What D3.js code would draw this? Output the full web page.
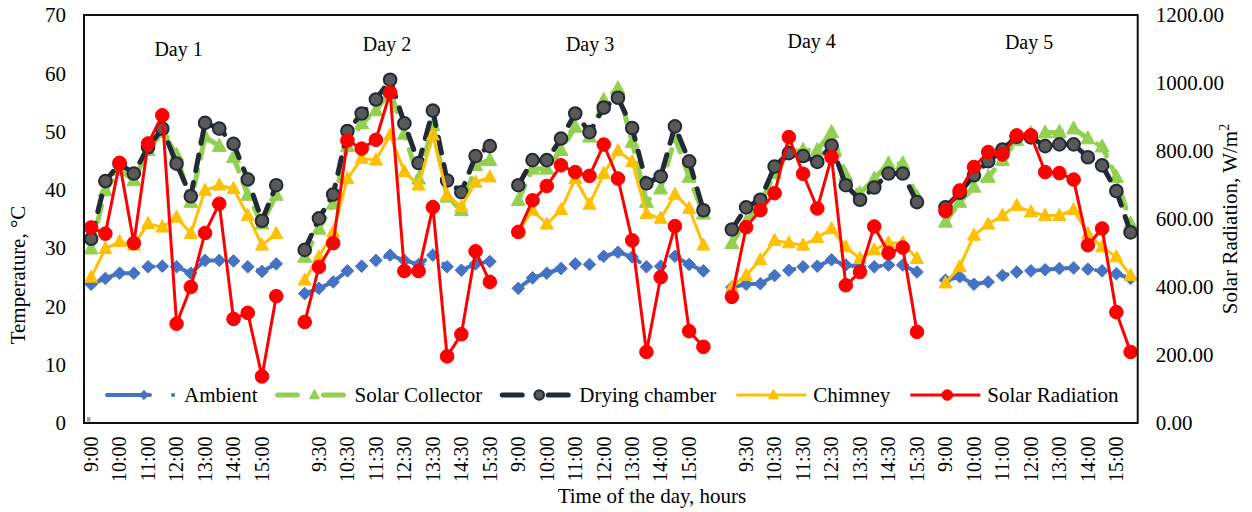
<!DOCTYPE html>
<html>
<head>
<meta charset="utf-8">
<script src="https://cdn.jsdelivr.net/npm/d3@7"></script>
<style>
  body { margin: 0; background: #fff; }
  svg { display: block; font-family: "Liberation Serif", "Times New Roman", serif; }
</style>
</head>
<body>
<div id="chart"></div>
<script>
// time slots measured each day
const times = ["9:00", "9:30", "10:00", "10:30", "11:00", "11:30", "12:00",
               "12:30", "13:00", "13:30", "14:00", "14:30", "15:00", "15:30"];
const dayNames = ["Day 1", "Day 2", "Day 3", "Day 4", "Day 5"];

// temperatures, °C (one row per day)
const ambient = [
    [23.8, 24.8, 25.7, 25.7, 26.8, 26.9, 26.8, 25.7, 27.9, 27.9, 27.8, 26.8, 26.0, 27.3],
    [22.2, 23.1, 24.2, 26.1, 26.9, 27.9, 28.8, 27.9, 27.2, 28.8, 26.8, 26.2, 27.3, 27.7],
    [23.1, 24.9, 25.7, 26.5, 27.3, 27.2, 28.6, 29.3, 28.5, 26.8, 26.9, 28.6, 27.2, 26.1],
    [23.3, 23.8, 23.9, 25.3, 26.2, 26.8, 26.9, 28.0, 27.1, 26.8, 26.8, 27.1, 27.1, 25.9],
    [24.5, 25.1, 23.8, 24.2, 25.3, 25.9, 26.1, 26.3, 26.5, 26.6, 26.4, 26.1, 25.6, 24.8]
];
const collector = [
    [29.9, 39.9, 43.4, 41.6, 46.8, 49.9, 46.0, 37.9, 49.1, 47.5, 45.6, 39.1, 34.2, 39.1],
    [28.5, 33.3, 37.6, 47.5, 51.4, 53.6, 57.0, 49.6, 41.9, 51.1, 38.8, 36.5, 44.2, 45.1],
    [38.2, 43.6, 43.6, 46.8, 50.8, 49.1, 55.4, 57.4, 48.2, 37.9, 40.2, 49.0, 42.2, 35.9],
    [30.8, 34.5, 37.6, 42.8, 46.5, 46.8, 46.8, 49.9, 42.5, 39.4, 41.9, 44.5, 44.5, 38.8],
    [34.5, 37.9, 40.5, 42.2, 45.1, 48.5, 49.7, 49.8, 49.9, 50.5, 48.8, 47.4, 42.2, 34.2]
];
const drying = [
    [31.6, 41.5, 44.5, 42.8, 47.3, 50.5, 44.5, 38.9, 51.5, 50.5, 47.9, 41.8, 34.7, 40.8],
    [29.7, 35.1, 39.2, 50.1, 53.1, 55.5, 58.9, 51.4, 44.6, 53.6, 41.6, 39.6, 45.8, 47.5],
    [40.8, 45.1, 45.1, 48.8, 53.1, 49.9, 54.1, 55.8, 50.6, 41.1, 42.3, 50.9, 44.9, 36.5],
    [33.2, 37.0, 38.3, 44.0, 46.3, 45.8, 44.8, 47.6, 40.8, 38.3, 40.4, 42.8, 42.8, 37.9],
    [37.0, 39.5, 42.5, 44.9, 46.9, 49.1, 49.0, 47.5, 47.8, 47.8, 45.6, 44.2, 39.8, 32.7]
];
const chimney = [
    [25.0, 29.9, 31.1, 30.5, 34.2, 33.6, 35.3, 32.5, 39.9, 40.8, 40.2, 35.6, 30.5, 32.5],
    [24.5, 28.5, 32.8, 41.9, 45.4, 45.1, 49.4, 43.1, 40.8, 49.4, 39.1, 37.1, 41.3, 42.2],
    [32.8, 36.5, 34.1, 36.6, 41.9, 37.5, 42.8, 46.7, 44.8, 35.9, 35.1, 39.2, 36.8, 30.5],
    [23.3, 25.3, 28.0, 31.3, 30.9, 30.5, 31.8, 33.3, 30.2, 28.2, 29.7, 30.9, 30.9, 28.2],
    [24.0, 26.8, 32.2, 34.1, 35.6, 37.3, 36.2, 35.6, 35.6, 36.6, 32.5, 30.2, 28.5, 25.3]
];
// solar radiation, W/m2 (right axis)
const radiation = [
    [575, 557, 765, 529, 822, 905, 292, 400, 559, 645, 306, 324, 137, 373],
    [297, 459, 529, 831, 807, 833, 972, 447, 447, 635, 196, 261, 505, 415],
    [562, 655, 697, 758, 738, 727, 819, 719, 537, 209, 429, 579, 270, 224],
    [371, 576, 626, 676, 841, 733, 631, 782, 405, 444, 578, 500, 516, 268],
    [623, 684, 753, 797, 790, 846, 846, 738, 735, 716, 523, 572, 326, 209]
];

const leftTicks = [0, 10, 20, 30, 40, 50, 60, 70];
const rightTicks = [0, 200, 400, 600, 800, 1000, 1200];

// where the "Day n" captions sit (category position, temperature)
const dayLabelSpot = [[6.14, 62.9], [20.78, 63.9], [35.04, 63.9], [50.6, 64.3], [65.87, 64.1]];

const width = 1252;
const height = 512;
const plot = { left: 84, right: 1137.7, top: 15, bottom: 423 };
const font = 21;

// one empty category between days, like the sheet had
const categories = [];
dayNames.forEach((d, k) => {
    if (k > 0) categories.push("");
    times.forEach(t => categories.push(t));
});
const perDay = times.length + 1;

function flat(rows) {
    const out = [];
    rows.forEach((row, k) => row.forEach((v, j) => out.push({ i: k * perDay + j, v: v, day: k })));
    return out;
}

const x = d3.scaleBand().domain(d3.range(categories.length)).range([plot.left, plot.right]);
const cx = i => x(0) + x.bandwidth() / 2 + i * x.bandwidth();
const yL = d3.scaleLinear().domain([0, 70]).range([plot.bottom, plot.top]);
const yR = d3.scaleLinear().domain([0, 1200]).range([plot.bottom, plot.top]);

const svg = d3.select("#chart")
    .append("svg")
    .attr("width", width)
    .attr("height", height);

svg.append("rect").attr("width", width).attr("height", height).attr("fill", "#fff");

// marker shapes
function markerPath(type, s) {
    if (type === "diamond") return `M0,${-s}L${s},0L0,${s}L${-s},0Z`;
    if (type === "triangle") return `M0,${-s * 1.1}L${s},${s * 0.75}L${-s},${s * 0.75}Z`;
    return d3.symbol(d3.symbolCircle, Math.PI * s * s)();
}

const series = [
    { name: "Ambient", rows: ambient, y: yL, color: "#4472C4", lw: 4, dash: "43,23,0.1,23",
      marker: "diamond", ms: 6.3, fill: "#4472C4", stroke: "#4472C4", sw: 1, lms: 4.6 },
    { name: "Solar Collector", rows: collector, y: yL, color: "#92D050", lw: 5, dash: "16,12",
      marker: "triangle", ms: 7, fill: "#92D050", stroke: "#92D050", sw: 1, lms: 5 },
    { name: "Drying chamber", rows: drying, y: yL, color: "#222A35", lw: 5, dash: "16,12",
      marker: "circle", ms: 6.3, fill: "#595959", stroke: "#222A35", sw: 2, lms: 4.8 },
    { name: "Chimney", rows: chimney, y: yL, color: "#FFC000", lw: 3, dash: null,
      marker: "triangle", ms: 6.5, fill: "#FFC000", stroke: "#FFC000", sw: 1, lms: 5 },
    { name: "Solar Radiation", rows: radiation, y: yR, color: "#FF0000", lw: 3, dash: null,
      marker: "circle", ms: 6.8, fill: "#FF0000", stroke: "#FF0000", sw: 1, lms: 5.3 }
];

const graph = svg.append("g").attr("class", "graph-elements");

series.forEach(s => {
    const pts = flat(s.rows);
    const line = d3.line().x(d => cx(d.i)).y(d => s.y(d.v));
    const g = graph.append("g");

    // one path per day so the gap stays open
    g.selectAll(".line")
        .data(s.rows.map((r, k) => pts.filter(p => p.day === k)))
        .enter()
        .append("path")
        .attr("class", "line")
        .attr("d", line)
        .attr("fill", "none")
        .attr("stroke", s.color)
        .attr("stroke-width", s.lw)
        .attr("stroke-linecap", s.dash ? "round" : "butt")
        .attr("stroke-linejoin", "round")
        .attr("stroke-dasharray", s.dash);

    g.selectAll(".point")
        .data(pts)
        .enter()
        .append("path")
        .attr("class", "point")
        .attr("transform", d => `translate(${cx(d.i)},${s.y(d.v)})`)
        .attr("d", markerPath(s.marker, s.ms))
        .attr("fill", s.fill)
        .attr("stroke", s.stroke)
        .attr("stroke-width", s.sw);
});

// plot frame
svg.append("rect")
    .attr("x", plot.left)
    .attr("y", plot.top)
    .attr("width", plot.right - plot.left)
    .attr("height", plot.bottom - plot.top)
    .attr("fill", "none")
    .attr("stroke", "#111")
    .attr("stroke-width", 2);

svg.append("rect")
    .attr("x", plot.left + 3).attr("y", plot.bottom - 6)
    .attr("width", 3.5).attr("height", 4.5)
    .attr("fill", "#a0a0a0");

// axes
const xAxis = d3.axisBottom(x)
    .tickValues(d3.range(0, categories.length, 2))
    .tickFormat(i => categories[i])
    .tickSize(0);

const xAxisGroup = svg.append("g")
    .attr("class", "x-axis")
    .attr("transform", `translate(0, ${plot.bottom})`)
    .call(xAxis);

const yAxisGroup = svg.append("g")
    .attr("class", "y-axis")
    .attr("transform", `translate(${plot.left}, 0)`)
    .call(d3.axisLeft(yL).tickValues(leftTicks).tickSize(0).tickPadding(18));

const yAxisRight = svg.append("g")
    .attr("class", "y-axis-right")
    .attr("transform", `translate(${plot.right}, 0)`)
    .call(d3.axisRight(yR).tickValues(rightTicks).tickSize(0).tickPadding(18)
        .tickFormat(d => d.toFixed(2)));

svg.selectAll(".x-axis, .y-axis, .y-axis-right")
    .attr("font-family", null)
    .attr("font-size", font)
    .selectAll(".domain").remove();
svg.selectAll(".tick text").attr("fill", "#000");

xAxisGroup.attr("font-size", 20)
    .selectAll("text")
    .attr("transform", "rotate(-90)")
    .attr("text-anchor", "end")
    .attr("x", -13.5)
    .attr("y", 0)
    .attr("dy", "0.34em");

// axis titles
svg.append("text")
    .attr("transform", `translate(25, 275) rotate(-90)`)
    .attr("text-anchor", "middle")
    .attr("font-size", font)
    .text("Temperature, °C");

const rt = svg.append("text")
    .attr("transform", `translate(1237, ${(plot.top + plot.bottom) / 2}) rotate(-90)`)
    .attr("text-anchor", "middle")
    .attr("font-size", font);
rt.append("tspan").text("Solar Radiation, W/m");
rt.append("tspan").attr("font-size", 14).attr("dy", -8).text("2");

svg.append("text")
    .attr("x", 652)
    .attr("y", 503)
    .attr("text-anchor", "middle")
    .attr("font-size", font)
    .text("Time of the day, hours");

// day captions
svg.selectAll(".day-label")
    .data(dayNames)
    .enter()
    .append("text")
    .attr("class", "day-label")
    .attr("x", (d, k) => cx(dayLabelSpot[k][0]))
    .attr("y", (d, k) => yL(dayLabelSpot[k][1]))
    .attr("text-anchor", "middle")
    .attr("font-size", font - 1)
    .text(d => d);

// legend inside the plot, along the bottom
const legend = svg.append("g").attr("class", "legend");
const legendY = 395;
const sampleW = 70;
let lx = 107;
series.forEach(s => {
    const item = legend.append("g");
    item.append("line")
        .attr("x1", lx).attr("x2", lx + sampleW)
        .attr("y1", legendY).attr("y2", legendY)
        .attr("stroke", s.color)
        .attr("stroke-width", s.lw)
        .attr("stroke-linecap", s.dash ? "round" : "butt")
        .attr("stroke-dasharray", s.name === "Ambient" ? "43,23,0.1,23" : s.dash ? "20,26" : null);
    item.append("path")
        .attr("transform", `translate(${lx + sampleW / 2 + 2},${legendY})`)
        .attr("d", markerPath(s.marker, s.lms))
        .attr("fill", s.fill)
        .attr("stroke", s.stroke)
        .attr("stroke-width", s.sw);
    const t = item.append("text")
        .attr("x", lx + sampleW + 7)
        .attr("y", legendY)
        .attr("dy", "0.34em")
        .attr("font-size", font)
        .text(s.name);
    lx = lx + sampleW + 7 + t.node().getComputedTextLength() + 20;
});
</script>
</body>
</html>
